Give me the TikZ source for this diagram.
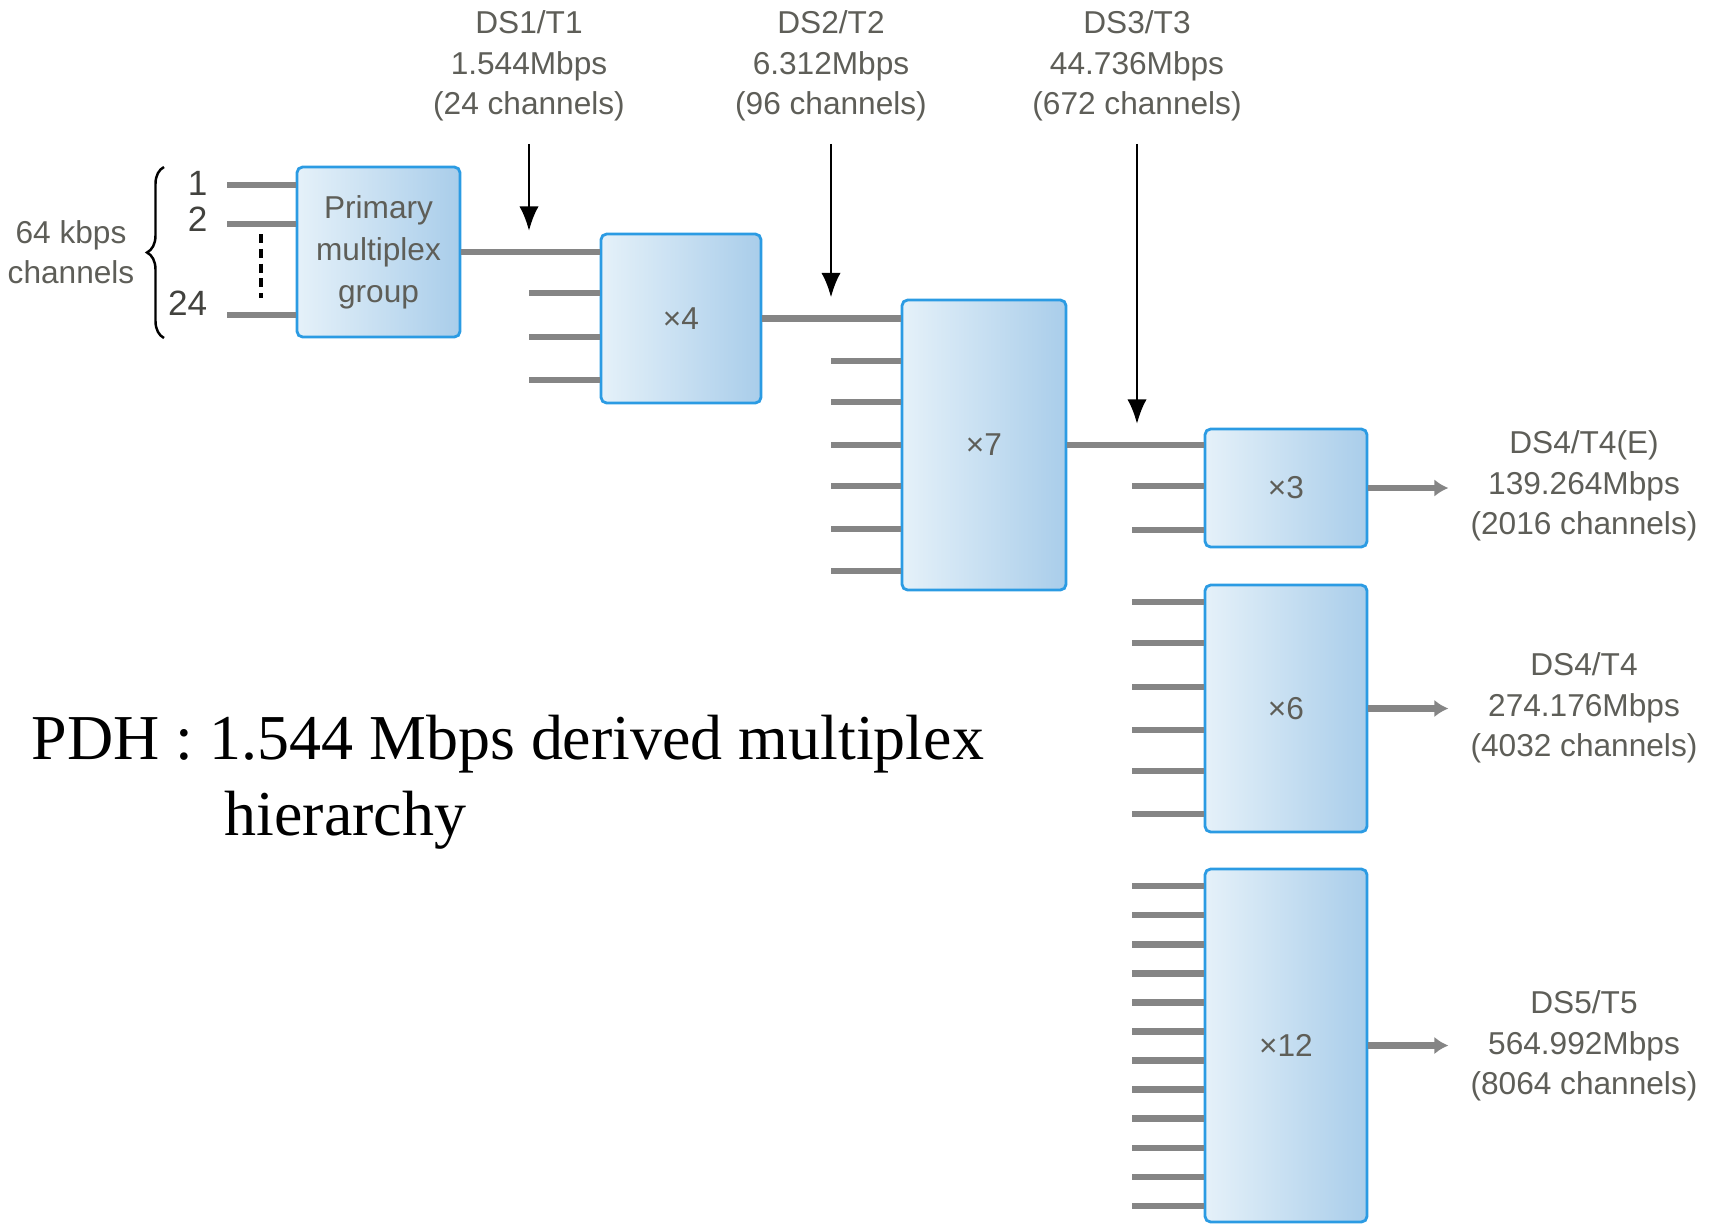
\documentclass[tikz,border=0pt]{standalone}
\usepackage{fontspec}
\setmainfont{Liberation Serif}
\newfontfamily\labelfont{Liberation Sans}
\usepackage{tikz}
\usetikzlibrary{arrows.meta,positioning,decorations.pathreplacing}
\definecolor{boxedge}{HTML}{2B9BE3}
\definecolor{boxlight}{HTML}{E5F1F9}
\definecolor{boxdark}{HTML}{A9CDEA}
\definecolor{wiregray}{HTML}{858585}
\definecolor{labelgray}{HTML}{5E5E58}
\tikzset{
  mux/.style={draw=boxedge, line width=0.8pt, rounded corners=1.6pt, left color=boxlight, right color=boxdark, align=center, inner sep=2pt, text=labelgray, font=\labelfont\fontsize{9}{12}\selectfont},
  stub/.style={draw=wiregray, line width=1.9pt},
  feed/.style={-{Latex[length=7pt,width=5.5pt]}, line width=0.8pt, draw=black},
  outarrow/.style={-{Latex[length=4pt,width=5pt]}, line width=1.9pt, draw=wiregray},
  rate/.style={align=center, inner sep=0pt, text=labelgray, font=\labelfont\fontsize{9}{11.5}\selectfont},
  chan/.style={anchor=east, inner sep=0pt, text=labelgray!70!black, font=\labelfont\fontsize{10}{12}\selectfont},
  bracket/.style={decorate, decoration={brace, amplitude=1.7mm}, line width=0.7pt},
  caption/.style={anchor=base west, inner sep=0pt, font=\fontsize{18.2}{22}\selectfont}
}

\begin{document}
\begin{tikzpicture}[x=0.1mm, y=-0.1mm]
  \useasboundingbox (0,0) rectangle (1710,1225);

  % multiplexer stages
  \node[mux, minimum width=16.3mm, minimum height=17mm] (prim) at (378.5,252) {Primary\\multiplex\\group};
  \node[mux, minimum width=16mm, minimum height=16.9mm] (x4) at (681,318.5) {×4};
  \node[mux, minimum width=16.4mm, minimum height=29mm] (x7) at (984,445) {×7};
  \node[mux, minimum width=16.2mm, minimum height=11.8mm] (x3) at (1286,488) {×3};
  \node[mux, minimum width=16.2mm, minimum height=24.7mm] (x6) at (1286,708.5) {×6};
  \node[mux, minimum width=16.2mm, minimum height=35.3mm] (x12) at (1286,1045.5) {×12};

  % 64 kbps inputs
  \node[rate] (kbps) at (71,252) {64 kbps\\channels};
  \draw[bracket] (164,338) -- (164,167);
  \node[chan] (c1) at (208,183) {1};
  \node[chan] (c2) at (208,219) {2};
  \node[chan] (c24) at (208,303) {24};
  \foreach \y in {185,224,315}
    \draw[stub] (227,\y) -- (prim.west |- 0,\y);
  \draw[line width=0.9pt, dash pattern=on 2.6pt off 1.6pt] (261,234) -- (261,298);

  % stage to stage
  \draw[stub] (prim.east) -- (x4.west |- prim.east);
  \draw[stub] (x4.east) -- (x7.west |- x4.east);
  \draw[stub] (x7.east) -- (x3.west |- x7.east);

  \foreach \y in {293,337,380}
    \draw[stub] (529,\y) -- (x4.west |- 0,\y);
  \foreach \y in {361,402,445,486,529,571}
    \draw[stub] (831,\y) -- (x7.west |- 0,\y);
  \foreach \y in {486,530}
    \draw[stub] (1132,\y) -- (x3.west |- 0,\y);
  \foreach \y in {602,643,687,730,771,814}
    \draw[stub] (1132,\y) -- (x6.west |- 0,\y);
  \foreach \i [evaluate=\i as \y using 886+29.1*\i] in {0,...,11}
    \draw[stub] (1132,\y) -- (x12.west |- 0,\y);

  % rates along the chain
  \node[rate] (ds1) at (529,66) {DS1/T1\\1.544Mbps\\(24 channels)};
  \node[rate] (ds2) at (831,66) {DS2/T2\\6.312Mbps\\(96 channels)};
  \node[rate] (ds3) at (1137,66) {DS3/T3\\44.736Mbps\\(672 channels)};
  \coordinate (j1) at (ds1 |- prim.east);
  \coordinate (j2) at (ds2 |- x4.east);
  \coordinate (j3) at (ds3 |- x7.east);
  \draw[feed, shorten <=2.2mm, shorten >=2.1mm] (ds1.south) -- (j1);
  \draw[feed, shorten <=2.2mm, shorten >=2.1mm] (ds2.south) -- (j2);
  \draw[feed, shorten <=2.2mm, shorten >=2.1mm] (ds3.south) -- (j3);

  % outputs
  \draw[outarrow] (x3.east) -- ++(80,0);
  \draw[outarrow] (x6.east) -- ++(80,0);
  \draw[outarrow] (x12.east) -- ++(80,0);
  \node[rate] (r3) at (1584,486) {DS4/T4(E)\\139.264Mbps\\(2016 channels)};
  \node[rate] (r6) at (1584,708) {DS4/T4\\274.176Mbps\\(4032 channels)};
  \node[rate] (r12) at (1584,1046) {DS5/T5\\564.992Mbps\\(8064 channels)};

  \node[caption] (title) at (31,759) {PDH : 1.544 Mbps derived multiplex};
  \node[caption] (title2) at (224,835) {hierarchy};
\end{tikzpicture}
\end{document}
